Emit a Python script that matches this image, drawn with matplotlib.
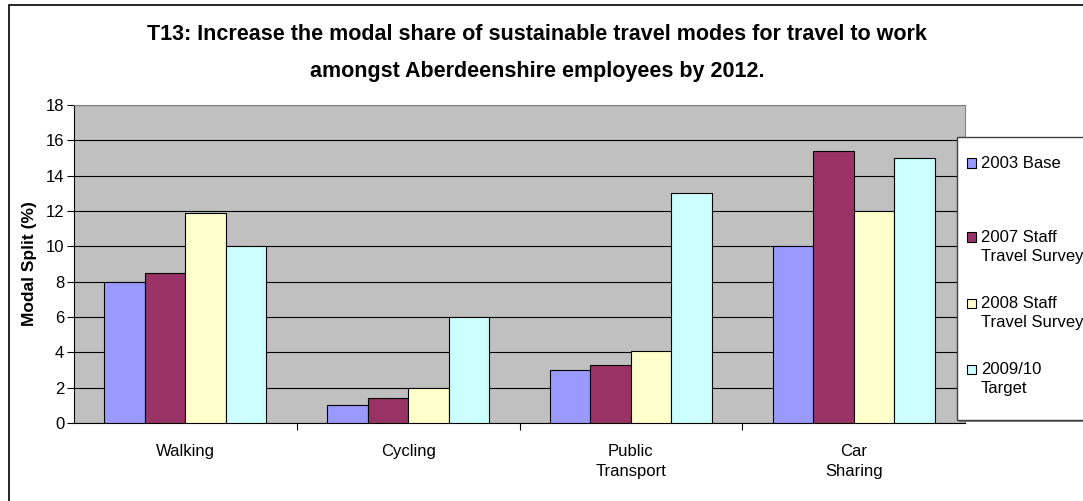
import numpy as np
import matplotlib.pyplot as plt
from matplotlib.patches import Rectangle

categories = ["Walking", "Cycling", "Public\nTransport", "Car\nSharing"]
series_names = ["2003 Base", "2007 Staff\nTravel Survey", "2008 Staff\nTravel Survey", "2009/10\nTarget"]
base_2003 = [8, 1, 3, 10]
survey_2007 = [8.5, 1.4, 3.3, 15.4]
survey_2008 = [11.9, 2, 4.1, 12]
target_2009 = [10, 6, 13, 15]
series_values = [base_2003, survey_2007, survey_2008, target_2009]
colors = ["#9999FF", "#993366", "#FFFFCC", "#CCFFFF"]

plt.rcParams['font.family'] = ['Liberation Sans', 'DejaVu Sans']

W, H = 1083, 501
fig = plt.figure(figsize=(W / 100, H / 100), dpi=100)

# outer chart border (right/bottom cut off in the original)
fig.patches.append(Rectangle((9 / W, -0.1), 1.2, 1 - 5 / H + 0.1, transform=fig.transFigure,
                             fill=False, edgecolor='black', linewidth=1.2))

# plot area in pixels: x 74..965, y 105..423
ax = fig.add_axes([74 / W, (H - 423) / H, (965 - 74) / W, (423 - 105) / H])
ax.set_facecolor('#C0C0C0')

n = len(series_values)
w = 1 / 5.5  # gap width 150%
x = np.arange(len(categories))
for i, vals in enumerate(series_values):
    ax.bar(x + (i - (n - 1) / 2) * w, vals, width=w, color=colors[i],
           edgecolor='black', linewidth=0.8, zorder=3)

ax.set_xlim(-0.5, len(categories) - 0.5)
ax.set_ylim(0, 18)
ax.set_yticks(range(0, 19, 2))
ax.yaxis.grid(True, color='black', linewidth=0.8, zorder=0)
ax.set_axisbelow(True)

ax.set_xticks(x)
ax.set_xticklabels(categories, fontsize=12, linespacing=1.45)
ax.tick_params(axis='x', length=0, pad=15)
ax.set_xticks(np.arange(0.5, len(categories) - 0.5), minor=True)
ax.tick_params(axis='x', which='minor', length=5, direction='out', width=0.8)
ax.tick_params(axis='y', length=5, direction='out', labelsize=12, width=0.8, pad=2)

for s in ['top', 'right']:
    ax.spines[s].set_color('#808080')
ax.spines['left'].set_linewidth(0.8)
ax.spines['bottom'].set_linewidth(0.8)

ax.set_ylabel("Modal Split (%)", fontsize=12.5, fontweight='bold', labelpad=6)

fig.text(537 / W, 1 - 35 / H, "T13: Increase the modal share of sustainable travel modes for travel to work",
         ha='center', va='center', fontsize=15.5, fontweight='bold')
fig.text(537 / W, 1 - 72 / H, "amongst Aberdeenshire employees by 2012.",
         ha='center', va='center', fontsize=15.5, fontweight='bold')

# legend box drawn on the figure
fig.patches.append(Rectangle((959 / W, (H - 422) / H), 0.2, (422 - 139) / H, transform=fig.transFigure,
                             facecolor='#808080', edgecolor='none', zorder=4))
fig.patches.append(Rectangle((957 / W, (H - 420) / H), 0.2, (420 - 137) / H, transform=fig.transFigure,
                             facecolor='white', edgecolor='#404040', linewidth=1, zorder=5))
legend_y = [163, 237, 303, 369]
for name, c, ly in zip(series_names, colors, legend_y):
    fig.patches.append(Rectangle((967 / W, (H - ly - 4.5) / H), 9 / W, 9 / H, transform=fig.transFigure,
                                 facecolor=c, edgecolor='black', linewidth=0.8, zorder=6))
    fig.text(981 / W, 1 - (ly - 7) / H, name, ha='left', va='top', fontsize=12,
             linespacing=1.35, zorder=7)

fig.savefig("out.png", dpi=100)
